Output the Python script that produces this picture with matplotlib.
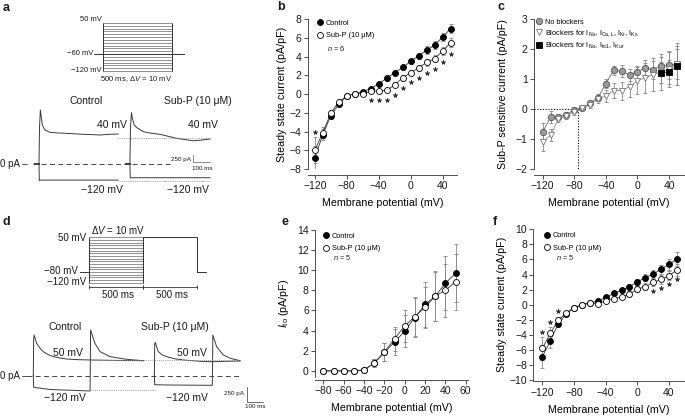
import numpy as np
import matplotlib
matplotlib.use("Agg")
import matplotlib.pyplot as plt
from matplotlib.lines import Line2D

plt.rcParams['font.family'] = ['Liberation Sans', 'DejaVu Sans']
plt.rcParams['mathtext.fontset'] = 'custom'
plt.rcParams['mathtext.rm'] = 'Liberation Sans'
plt.rcParams['mathtext.it'] = 'Liberation Sans:italic'
plt.rcParams['mathtext.bf'] = 'Liberation Sans:bold'

# ---------------- data ----------------
step_levels = [50, 40, 30, 20, 10, 0, -10, -20, -30, -40, -50, -60, -70, -80, -90, -100, -110, -120]

# panel a protocol (ms, mV)
a_step_ms = 500
a_hold_mV = -60
a_hold_t = [-65, 587]

# panel a traces (ms, pA)
a_ctrl_dep_t = [0, 3, 8, 14, 20, 35, 65, 110, 163, 210, 260, 310, 359, 410, 465]
a_ctrl_dep_I = [0, 1300, 1930, 1650, 1380, 1214, 1130, 1110, 1094, 1080, 1059, 1050, 1035, 1060, 1071]
a_subp_dep_t = [535, 538, 544, 550, 560, 575, 614, 660, 712, 760, 810, 860, 906, 950, 1006]
a_subp_dep_I = [0, 1300, 1833, 1600, 1400, 1300, 1154, 1100, 1059, 990, 916, 870, 832, 850, 892]
a_ctrl_hyp_t = [0, 2, 10, 465]
a_ctrl_hyp_I = [0, -590, -575, -575]
a_subp_hyp_t = [535, 537, 545, 1006]
a_subp_hyp_I = [0, -500, -490, -490]
a_ref_t = [465, 1006]
a_ref_dep_I = 940
a_ref_hyp_I = -595
a_hold_ctrl_t = [-25, 0]
a_hold_subp_t = [510, 535]
a_zero_t = [-35, 770]
a_bar_t0 = 906
a_bar_I0 = 71

# panel d protocol (ms, mV)
d_hold_mV = -80
d_test_mV = 50
d_step_ms = 500
d_hold_pre_t = [-86, 0]
d_hold_post_t = [1000, 1078]
d_bar_mV = -135

# panel d traces (ms, pA)
d_ctrl_dep_t = [0, 2, 5, 20, 40, 60, 90, 120, 160, 200, 260, 340, 500, 659]
d_ctrl_dep_I = [0, 600, 678, 540, 460, 400, 350, 317, 295, 278, 268, 262, 255, 250]
d_ctrl_hyp_t = [0, 2, 100, 340, 343, 369, 400, 460, 559, 659]
d_ctrl_hyp_I = [0, -193, -230, -255, 763, 540, 400, 317, 273, 250]
d_subp_dep_t = [725, 727, 730, 749, 770, 799, 850, 898, 1000, 1072, 1150, 1238]
d_subp_dep_I = [0, 520, 557, 400, 350, 317, 280, 262, 240, 233, 240, 245]
d_subp_hyp_t = [725, 727, 800, 1072, 1075, 1098, 1138, 1180, 1238]
d_subp_hyp_I = [0, -150, -155, -160, 678, 483, 345, 290, 250]
d_ref_dep_t = [340, 1238]
d_ref_dep_I = 262
d_ref_hyp_t = [340, 730]
d_ref_hyp_I = -238
d_zero_t = [-40, 1238]
d_bar_t0 = 1278
d_bar_I0 = -433

# panel b
volts = [-120, -110, -100, -90, -80, -70, -60, -50, -40, -30, -20, -10, 0, 10, 20, 30, 40, 50]
b_ctrl = [-6.8, -4.35, -2.3, -1.1, -0.2, 0.05, 0.25, 0.6, 1.1, 1.7, 2.3, 2.85, 3.5, 4.1, 4.7, 5.25, 6.1, 7.0]
b_ctrl_err = [1.3, 0.6, 0.35, 0.25, 0.1, 0.1, 0.1, 0.15, 0.2, 0.25, 0.25, 0.3, 0.3, 0.35, 0.4, 0.4, 0.45, 0.5]
b_subp = [-6.0, -4.1, -2.05, -0.8, -0.2, 0.05, 0.05, 0.3, 0.35, 0.4, 1.0, 1.75, 2.3, 2.8, 3.4, 3.8, 4.6, 5.5]
b_subp_err = [1.4, 0.6, 0.35, 0.25, 0.1, 0.1, 0.1, 0.15, 0.2, 0.2, 0.25, 0.3, 0.3, 0.35, 0.35, 0.4, 0.45, 0.5]
b_star_v = [-120, -50, -40, -30, -20, -10, 0, 10, 20, 30, 40, 50]
b_star_y = [-4.0, -0.65, -0.65, -0.65, -0.05, 0.7, 1.3, 1.7, 2.3, 2.7, 3.45, 4.25]

# panel c
c_none = [-0.76, -0.27, -0.25, -0.18, -0.02, 0.04, 0.2, 0.38, 0.85, 1.3, 1.26, 1.15, 1.25, 1.38, 1.32, 1.45, 1.47, 1.5]
c_none_err = [0.28, 0.2, 0.1, 0.1, 0.08, 0.06, 0.08, 0.1, 0.15, 0.15, 0.2, 0.2, 0.2, 0.25, 0.3, 0.3, 0.45, 0.5]
c_tri = [-1.1, -0.87, -0.32, -0.23, -0.1, 0.03, 0.15, 0.35, 0.43, 0.62, 0.62, 0.75, 0.95, 1.05, 1.15, 1.25, 1.35, 1.5]
c_tri_err = [0.3, 0.2, 0.1, 0.1, 0.08, 0.06, 0.1, 0.15, 0.2, 0.25, 0.3, 0.35, 0.45, 0.5, 0.55, 0.6, 0.6, 0.7]
c_sq_v = [30, 40, 50]
c_sq = [1.22, 1.24, 1.45]
c_sq_err = [0.35, 0.4, 0.65]
c_rev = -75

# panel e
volts_e = [-80, -70, -60, -50, -40, -30, -20, -10, 0, 10, 20, 30, 40, 50]
e_ctrl = [0, 0, 0, 0, 0.1, 0.75, 1.85, 2.85, 3.95, 5.3, 6.6, 7.4, 8.7, 9.7]
e_ctrl_err = [0, 0, 0, 0, 0.1, 0.4, 0.9, 1.3, 1.6, 1.9, 2.2, 2.4, 2.7, 2.9]
e_subp = [0, 0, 0, 0, 0.05, 0.8, 1.85, 3.2, 4.45, 5.4, 6.3, 7.45, 8.0, 8.85]
e_subp_err = [0, 0, 0, 0, 0.1, 0.4, 0.9, 1.2, 1.6, 1.9, 2.0, 2.5, 2.6, 2.8]

# panel f
f_ctrl = [-6.9, -4.8, -2.55, -1.3, -0.4, -0.05, 0.2, 0.5, 0.95, 1.5, 1.9, 2.4, 3.0, 3.6, 4.05, 4.7, 5.35, 6.05]
f_ctrl_err = [1.5, 1.0, 0.4, 0.25, 0.15, 0.1, 0.1, 0.15, 0.2, 0.25, 0.3, 0.35, 0.4, 0.45, 0.5, 0.6, 0.7, 0.9]
f_subp = [-5.8, -3.8, -2.1, -1.1, -0.4, 0.0, 0.25, 0.1, 0.55, 0.8, 1.0, 1.4, 2.05, 2.4, 2.95, 3.35, 3.85, 4.6]
f_subp_err = [1.5, 0.8, 0.4, 0.25, 0.15, 0.1, 0.1, 0.15, 0.2, 0.25, 0.3, 0.35, 0.4, 0.45, 0.5, 0.55, 0.6, 0.8]
f_star_v = [-120, -110, -100, 20, 30, 40, 50]
f_star_y = [-3.6, -2.35, -0.85, 1.85, 2.25, 2.8, 3.35]

# ---------------- figure ----------------
W, H = 685, 417
fig = plt.figure(figsize=(6.85, 4.17), dpi=100)


def px_axes(x0, y0, x1, y1, **kw):
    return fig.add_axes([x0 / W, 1 - y1 / H, (x1 - x0) / W, (y1 - y0) / H], **kw)


def sketch_axes(box, xa_px, xa_val, xs, ya_px, ya_val, ys):
    x0, y0, x1, y1 = box
    ax = px_axes(*box)
    ax.set_xlim(xa_val + (x0 - xa_px) / xs, xa_val + (x1 - xa_px) / xs)
    ax.set_ylim(ya_val - (y1 - ya_px) / ys, ya_val - (y0 - ya_px) / ys)
    ax.axis('off')
    return ax


ov = px_axes(0, 0, W, H)
ov.set_xlim(0, W)
ov.set_ylim(H, 0)
ov.axis('off')


def T(x, y, s, size=7, ha='center', va='center', **kw):
    ov.text(x, y, s, fontsize=size, ha=ha, va=va, color='#1a1a1a', **kw)


# panel letters
for (lx, ly, lt) in [(3, 8, 'a'), (277, 7, 'b'), (498, 7, 'c'), (3, 222, 'd'), (282, 222, 'e'), (493, 222, 'f')]:
    T(lx, ly, lt, size=9, ha='left', fontweight='bold')

# ---- panel a protocol ----
axp = sketch_axes((55, 10, 205, 88), 103, 0, 0.138, 23, 50, 0.2824)
axp.hlines(step_levels, 0, a_step_ms, color='#666', lw=0.5)
axp.vlines([0, a_step_ms], min(step_levels), max(step_levels), color='#333', lw=0.7)
axp.plot(a_hold_t, [a_hold_mV, a_hold_mV], color='#333', lw=0.7)
T(102, 19, '50 mV', size=5.5, ha='right')
T(93, 53, '\u221260 mV', size=5.5, ha='right')
T(102, 70, '\u2212120 mV', size=5.5, ha='right')
T(100, 79, '500 ms, $\\Delta V$ = 10 mV', size=5.5, ha='left')

# ---- panel a traces ----
axa = sketch_axes((0, 95, 232, 200), 39, 0, 0.17, 164, 0, 0.028)
tc = '#3a3a3a'
axa.plot(a_ctrl_dep_t, a_ctrl_dep_I, color=tc, lw=0.7)
axa.plot(a_subp_dep_t, a_subp_dep_I, color=tc, lw=0.7)
axa.plot(a_ctrl_hyp_t, a_ctrl_hyp_I, color=tc, lw=0.7)
axa.plot(a_subp_hyp_t, a_subp_hyp_I, color=tc, lw=0.7)
axa.plot(a_hold_ctrl_t, [0, 0], color=tc, lw=1.4)
axa.plot(a_hold_subp_t, [0, 0], color=tc, lw=1.4)
axa.plot(a_ref_t, [a_ref_dep_I] * 2, color='#888', lw=0.6, ls=(0, (1, 1.2)))
axa.plot(a_ref_t, [a_ref_hyp_I] * 2, color='#888', lw=0.6, ls=(0, (1, 1.2)))
axa.plot(a_zero_t, [0, 0], color='#444', lw=0.7, ls=(0, (5, 3.5)))
axa.plot([a_bar_t0, a_bar_t0, a_bar_t0 + 100], [a_bar_I0 + 250, a_bar_I0, a_bar_I0], color='#777', lw=0.6)
T(86, 101, 'Control', size=7.5)
T(198, 101, 'Sub-P (10 \u03bcM)', size=7.5)
T(112, 125, '40 mV', size=7.5)
T(203, 125, '40 mV', size=7.5)
T(102, 190, '\u2212120 mV', size=7.5)
T(188, 190, '\u2212120 mV', size=7.5)
T(0.5, 164, '0 pA \u2013', size=7, ha='left')
T(191, 159, '250 pA', size=4.5, ha='right')
T(202, 168, '100 ms', size=4.5)

# ---- panel d protocol ----
axq = sketch_axes((30, 220, 215, 300), 89.3, 0, 0.108, 237.3, 50, 0.267)
axq.hlines(step_levels, 0, d_step_ms, color='#666', lw=0.5)
axq.vlines([0, d_step_ms], min(step_levels), max(step_levels), color='#333', lw=0.7)
axq.plot([d_step_ms, 2 * d_step_ms, 2 * d_step_ms], [d_test_mV, d_test_mV, d_hold_mV], color='#333', lw=0.7)
axq.plot(d_hold_pre_t, [d_hold_mV] * 2, color='#333', lw=0.7)
axq.plot(d_hold_post_t, [d_hold_mV] * 2, color='#333', lw=0.7)
axq.plot([0, d_step_ms], [d_bar_mV] * 2, color='#333', lw=0.6, marker='|', ms=3, mew=0.6)
axq.plot([d_step_ms, 2 * d_step_ms], [d_bar_mV] * 2, color='#333', lw=0.6, marker='|', ms=3, mew=0.6)
T(86, 238, '50 mV', size=7, ha='right')
T(91, 230, '$\\Delta V$ = 10 mV', size=7, ha='left')
T(78, 271, '\u221280 mV', size=7, ha='right')
T(86, 282, '\u2212120 mV', size=7, ha='right')
T(118, 295, '500 ms', size=7)
T(171.7, 295, '500 ms', size=7)

# ---- panel d traces ----
axd = sketch_axes((0, 315, 270, 415), 33.3, 0, 0.167, 375.7, 0, 0.06)
axd.plot(d_ctrl_dep_t, d_ctrl_dep_I, color=tc, lw=0.7)
axd.plot(d_ctrl_hyp_t, d_ctrl_hyp_I, color=tc, lw=0.7)
axd.plot(d_subp_dep_t, d_subp_dep_I, color=tc, lw=0.7)
axd.plot(d_subp_hyp_t, d_subp_hyp_I, color=tc, lw=0.7)
axd.plot(d_ref_dep_t, [d_ref_dep_I] * 2, color='#999', lw=0.7, ls=(0, (1, 1.2)))
axd.plot(d_ref_hyp_t, [d_ref_hyp_I] * 2, color='#999', lw=0.7, ls=(0, (1, 1.2)))
axd.plot(d_zero_t, [0, 0], color='#444', lw=0.7, ls=(0, (5, 3.5)))
axd.plot([d_bar_t0, d_bar_t0, d_bar_t0 + 100], [d_bar_I0 + 250, d_bar_I0, d_bar_I0], color='#555', lw=0.6)
T(65, 327, 'Control', size=7.5)
T(175, 327, 'Sub-P (10 \u03bcM)', size=7.5)
T(68, 353, '50 mV', size=7.5)
T(192, 353, '50 mV', size=7.5)
T(65, 398, '\u2212120 mV', size=7.5)
T(187, 398, '\u2212120 mV', size=7.5)
T(0.5, 375.7, '0 pA \u2013', size=7, ha='left')
T(244, 393, '250 pA', size=4.5, ha='right')
T(255, 407, '100 ms', size=4.5)


# ---- IV panels ----
def iv_axes(left, top, right, bottom, xlim, ylim, off):
    ax = px_axes(left, top, right, bottom)
    ax.set_xlim(*xlim)
    ax.set_ylim(*ylim)
    ax.patch.set_alpha(0)
    for s in ['top', 'right']:
        ax.spines[s].set_visible(False)
    for s in ['left', 'bottom']:
        ax.spines[s].set_linewidth(0.6)
        ax.spines[s].set_color('#333')
    ax.spines['bottom'].set_position(('outward', off))
    ax.tick_params(labelsize=7.5, length=3, width=0.6, pad=1.5, colors='#333', labelcolor='#1a1a1a')
    return ax


def series(ax, x, y, err, mfc, mec, marker='o', ms=4.3, lc='#333', ec='#888'):
    ax.errorbar(x, y, yerr=err, fmt='none', ecolor=ec, elinewidth=0.6, capsize=1.2, capthick=0.6, zorder=2)
    ax.plot(x, y, color=lc, lw=0.6, zorder=3)
    ax.plot(x, y, ls='none', marker=marker, ms=ms, mfc=mfc, mec=mec, mew=0.6, zorder=4)


def legend2(ax, fx, fy, n_txt, nx, ny):
    h = [Line2D([], [], ls='none', marker='o', ms=4.3, mfc='k', mec='k', mew=0.6),
         Line2D([], [], ls='none', marker='o', ms=4.3, mfc='white', mec='k', mew=0.6)]
    ax.legend(h, ['Control', 'Sub-P (10 \u03bcM)'], loc='upper left', bbox_to_anchor=(fx / W, 1 - fy / H),
              bbox_transform=fig.transFigure, frameon=False, fontsize=5.3, handlelength=0.8,
              handletextpad=0.4, borderpad=0, borderaxespad=0, labelspacing=0.75)
    T(nx, ny, n_txt, size=5.3, ha='left')


# b
axb = iv_axes(308, 19.3, 457, 169, (-128.5, 58), (-8, 8), 4.5)
axb.set_xticks([-120, -80, -40, 0, 40])
axb.set_yticks(range(-8, 9, 2))
series(axb, volts, b_ctrl, b_ctrl_err, 'k', 'k')
series(axb, volts, b_subp, b_subp_err, 'white', 'k')
axb.plot(b_star_v, b_star_y, ls='none', marker=(5, 2, 0), ms=3.2, mew=0.6, color='#333', zorder=5)
axb.set_xlabel('Membrane potential (mV)', fontsize=7.7, labelpad=5)
axb.set_ylabel('Steady state current (pA/pF)', fontsize=7.7, labelpad=2)
legend2(axb, 317, 19.5, '$n$ = 6', 327.5, 48.5)

# c
axc = iv_axes(534, 19.3, 684, 169, (-131, 59), (-2, 3), 4.5)
axc.set_xticks([-120, -80, -40, 0, 40])
axc.set_yticks(range(-2, 4))
axc.plot([-131, c_rev], [0, 0], color='k', lw=0.8, ls=(0, (1, 1.5)), zorder=1)
axc.plot([c_rev, c_rev], [0, -2], color='k', lw=0.8, ls=(0, (1, 1.5)), zorder=1)
series(axc, volts, c_none, c_none_err, '#9a9a9a', '#555', ms=4.6, lc='#666')
series(axc, volts, c_tri, c_tri_err, 'white', '#777', marker='v', ms=5, lc='#888')
series(axc, c_sq_v, c_sq, c_sq_err, 'k', 'k', marker='s', ms=4.3, lc='#333')
hc = [Line2D([], [], ls='none', marker='o', ms=4.6, mfc='#9a9a9a', mec='#555', mew=0.6),
      Line2D([], [], ls='none', marker='v', ms=5, mfc='white', mec='#777', mew=0.6),
      Line2D([], [], ls='none', marker='s', ms=4.3, mfc='k', mec='k', mew=0.6)]
axc.legend(hc, ['No blockers',
                'Blockers for $\\mathrm{I}_{\\mathrm{Na}}$, $\\mathrm{I}_{\\mathrm{Ca,L}}$, $\\mathrm{I}_{\\mathrm{Kr}}$, $\\mathrm{I}_{\\mathrm{Ks}}$',
                'Blockers for $\\mathrm{I}_{\\mathrm{Na}}$, $\\mathrm{I}_{\\mathrm{to1}}$, $\\mathrm{I}_{\\mathrm{Kur}}$'],
           loc='upper left', bbox_to_anchor=(536 / W, 1 - 18.5 / H), bbox_transform=fig.transFigure,
           frameon=False, fontsize=5.3, handlelength=0.8, handletextpad=0.4, borderpad=0,
           borderaxespad=0, labelspacing=0.3)
axc.set_xlabel('Membrane potential (mV)', fontsize=7.7, labelpad=5)
axc.set_ylabel('Sub-P sensitive current (pA/pF)', fontsize=7.7, labelpad=6)

# e
axe = iv_axes(315, 230, 467.7, 376.9, (-88.2, 62), (-0.6, 14), 2)
axe.set_xticks(range(-80, 61, 20))
axe.set_yticks(range(0, 15, 2))
series(axe, volts_e, e_ctrl, e_ctrl_err, 'k', 'k')
series(axe, volts_e, e_subp, e_subp_err, 'white', 'k')
axe.set_xlabel('Membrane potential (mV)', fontsize=7.7, labelpad=5)
axe.set_ylabel('$I_{\\mathrm{to}}$ (pA/pF)', fontsize=7.7, labelpad=4)
legend2(axe, 323, 232.5, '$n$ = 5', 333, 257)

# f
axf = iv_axes(533.3, 229.3, 684, 380, (-131.5, 59), (-10, 10), 1)
axf.set_xticks([-120, -80, -40, 0, 40])
axf.set_yticks(range(-10, 11, 2))
series(axf, volts, f_ctrl, f_ctrl_err, 'k', 'k')
series(axf, volts, f_subp, f_subp_err, 'white', 'k')
axf.plot(f_star_v, f_star_y, ls='none', marker=(5, 2, 0), ms=3.2, mew=0.6, color='#333', zorder=5)
axf.set_xlabel('Membrane potential (mV)', fontsize=7.7, labelpad=5)
axf.set_ylabel('Steady state current (pA/pF)', fontsize=7.7, labelpad=2)
legend2(axf, 544, 232, '$n$ = 5', 556.5, 257.5)

fig.savefig('out.png', dpi=100)
